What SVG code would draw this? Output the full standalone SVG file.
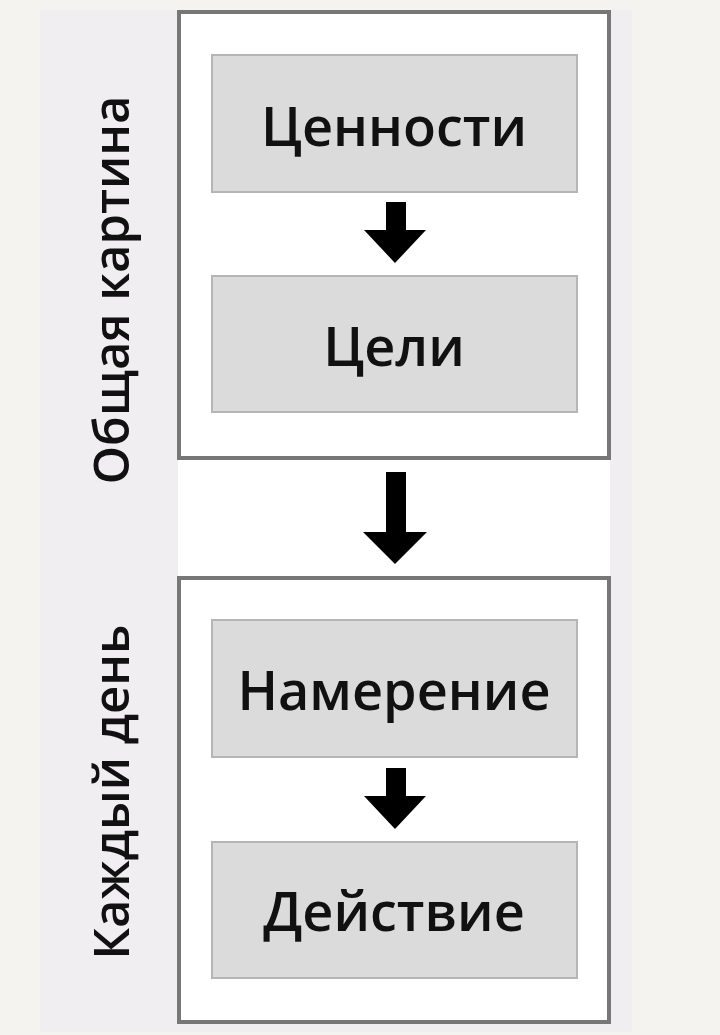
<svg xmlns="http://www.w3.org/2000/svg" width="720" height="1035" viewBox="0 0 720 1035">
<defs>
<style>
.outer{fill:#fff;stroke:#777;stroke-width:4}
.inner{fill:#dcdbdc;stroke:#b5b5b5;stroke-width:2}
.t{font-family:"Open Sans","Noto Sans",sans-serif;font-size:54px;font-weight:600;fill:#111;text-anchor:middle}
.s{font-family:"Open Sans","Noto Sans",sans-serif;font-size:49px;font-weight:600;fill:#111;text-anchor:middle}
.a{fill:#000}
</style>
</defs>
<rect width="720" height="1035" fill="#f5f3ef"/>
<rect x="40" y="10" width="592" height="1022" fill="#f0eef0"/>
<rect x="178" y="458" width="432" height="120" fill="#fff"/>
<g id="side-top"><text class="s" transform="translate(129,290) rotate(-90)">Общая картина</text></g>
<g id="side-bottom"><text class="s" transform="translate(129,792) rotate(-90)">Каждый день</text></g>
<g id="group-top"><rect class="outer" x="179" y="12" width="430" height="446"/></g>
<g id="group-bottom"><rect class="outer" x="179" y="578" width="430" height="444"/></g>
<g id="values"><rect class="inner" x="212" y="55" width="365" height="137"/><text class="t" x="394" y="146">Ценности</text></g>
<g id="goals"><rect class="inner" x="212" y="276" width="365" height="136"/><text class="t" x="394" y="366">Цели</text></g>
<g id="intention"><rect class="inner" x="212" y="620" width="365" height="137"/><text class="t" x="394" y="710">Намерение</text></g>
<g id="action"><rect class="inner" x="212" y="842" width="365" height="136"/><text class="t" x="394" y="931">Действие</text></g>
<g id="connectors">
<path class="a" d="M386 202h20v28h20l-31 33l-31-33h22z"/>
<path class="a" d="M386 472h20v60h21l-32 32l-32-32h23z"/>
<path class="a" d="M386 768h20v28h20l-31 33l-31-33h22z"/>
</g>
</svg>
